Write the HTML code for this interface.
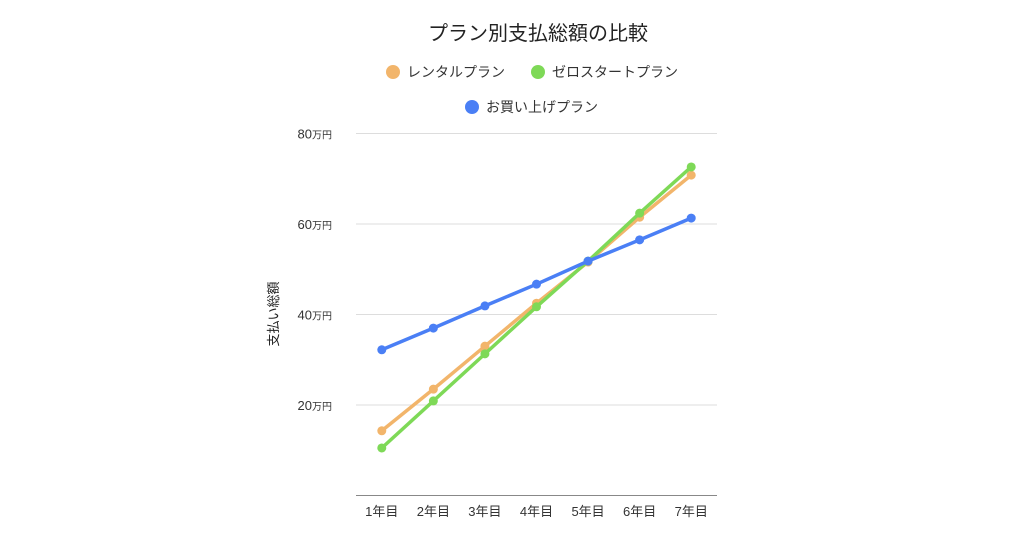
<!DOCTYPE html>
<html><head><meta charset="utf-8"><style>
body{margin:0;background:#fff;width:1024px;height:538px;overflow:hidden;font-family:"Liberation Sans","Noto Sans CJK JP",sans-serif;}
</style></head><body>
<svg id="c" width="1024" height="538" style="font-family:'Liberation Sans','Noto Sans CJK JP',sans-serif">
<text x="538" y="40" text-anchor="middle" font-size="20" fill="#222">プラン別支払総額の比較</text>
<g><circle cx="393" cy="72" r="7" fill="#f2b56b"/><text x="407" y="77" font-size="14" fill="#333">レンタルプラン</text></g>
<g><circle cx="538" cy="72" r="7" fill="#7ed957"/><text x="552" y="77" font-size="14" fill="#333">ゼロスタートプラン</text></g>
<g><circle cx="472" cy="107" r="7" fill="#4a7ff5"/><text x="486" y="112" font-size="14" fill="#333">お買い上げプラン</text></g>
<text transform="translate(278,314) rotate(-90)" text-anchor="middle" font-size="13" fill="#222">支払い総額</text>
<g id="grid"></g><g id="marks"></g>
</svg>
<script>
const categories=["1年目","2年目","3年目","4年目","5年目","6年目","7年目"];
const rental=[14.3,23.5,33.0,42.5,51.6,61.5,70.8];
const zeroStart=[10.5,20.9,31.3,41.7,51.8,62.4,72.6];
const purchase=[32.2,37.0,41.9,46.7,51.8,56.5,61.3];
const yTicks=[20,40,60,80];
const yTickLabels=["20","40","60","80"];
const NS="http://www.w3.org/2000/svg";
const x0=356,x1=717,yBase=495.5,pxPer=4.525;
const step=(x1-x0)/categories.length;
const X=i=>x0+step*(i+0.5);
const Y=v=>yBase-v*pxPer;
function mk(t,a,p){const e=document.createElementNS(NS,t);for(const k in a)e.setAttribute(k,a[k]);p.appendChild(e);return e;}
const grid=document.getElementById('grid'),marks=document.getElementById('marks');
yTicks.forEach((v,i)=>{
 const l=mk('line',{x1:x0,x2:x1,y1:Y(v),y2:Y(v),stroke:'#ddd','stroke-width':1},grid);
 
 
 const t=mk('text',{x:332,y:Y(v)+5,'text-anchor':'end','font-size':13,fill:'#333'},grid);
 t.textContent=yTickLabels[i];
 const s=mk('tspan',{'font-size':10},t);s.textContent='万円';
 
 
});
const ax=mk('line',{x1:x0,x2:x1,y1:yBase,y2:yBase,stroke:'#888','stroke-width':1},grid);


categories.forEach((c,i)=>{
 const t=mk('text',{x:X(i),y:516,'text-anchor':'middle','font-size':13,fill:'#333'},grid);
 t.textContent=c;
 
 
});
[[rental,'#f2b56b','rental'],[zeroStart,'#7ed957','zerostart'],[purchase,'#4a7ff5','purchase']].forEach(([d,col,n])=>{
 const p=mk('polyline',{points:d.map((v,i)=>X(i)+','+Y(v)).join(' '),fill:'none',stroke:col,'stroke-width':3.5,'stroke-linejoin':'round'},marks);
 
 
 d.forEach((v,i)=>{
  const c=mk('circle',{cx:X(i),cy:Y(v),r:4.5,fill:col},marks);
  
  
 });
});
</script>
</body></html>
